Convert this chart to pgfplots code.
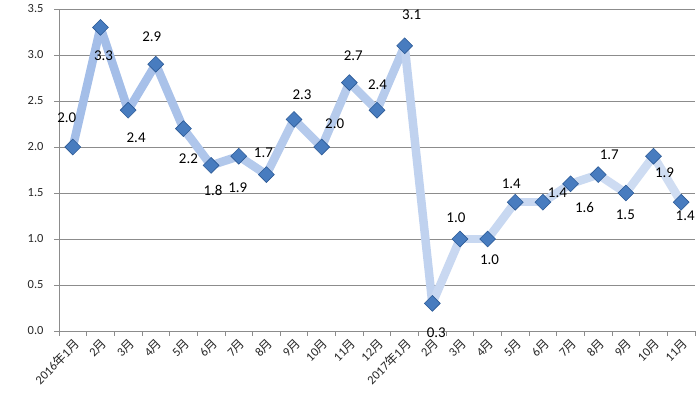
\documentclass[border=0pt]{standalone}
\usepackage{fontspec}
\setmainfont{Carlito}
\newfontfamily\cjk{Noto Sans CJK SC}
\usepackage{pgfplots}
\pgfplotsset{compat=1.18}
\usepackage{pgfplotstable}
\newcommand\Y{{\cjk 月}}
\newcommand\N{{\cjk 年}}
\definecolor{gridgray}{RGB}{140,140,140}
\definecolor{markblue}{RGB}{72,124,191}
\definecolor{markdark}{RGB}{44,90,150}
\pgfplotstableread{
x y dx dy
0 2.0 -6 29
1 3.3 3 -28
2 2.4 8 -28
3 2.9 -4 27
4 2.2 5 -30
5 1.8 2 -25
6 1.9 -1 -32
7 1.7 -3 22
8 2.3 8 25
9 2.0 13 23
10 2.7 4 27
11 2.4 0.5 25
12 3.1 7 31
13 0.3 4 -29
14 1.0 -4 21.5
15 1.0 2 -20.5
16 1.4 -4 18
17 1.4 14.5 9.5
18 1.6 14 -24
19 1.7 11 20
20 1.5 -0.5 -22
21 1.9 11 -16.5
22 1.4 4 -14
}\datatable
\begin{document}
\begin{tikzpicture}
\useasboundingbox (0,0) rectangle (698bp,398bp);
\begin{axis}[
  at={(59bp,67bp)}, anchor=south west,
  scale only axis, width=636bp, height=322bp,
  xmin=-0.5, xmax=22.5, ymin=0, ymax=3.5,
  axis lines=left,
  axis line style={-, draw=gridgray, line width=0.75bp},
  ymajorgrids,
  grid style={draw=gridgray, line width=0.75bp},
  tick align=outside,
  major tick length=5bp,
  minor tick length=5bp,
  ytick={0,0.5,1,1.5,2,2.5,3,3.5},
  ytick style={draw=gridgray, line width=0.75bp},
  yticklabel style={/pgf/number format/fixed, /pgf/number format/fixed zerofill, /pgf/number format/precision=1, /pgf/number format/assume math mode=true, font=\fontsize{12.5}{14}\selectfont, text=black!85, xshift=-7bp},
  xtick={0,...,22},
  xticklabels={2016\N1\Y,2\Y,3\Y,4\Y,5\Y,6\Y,7\Y,8\Y,9\Y,10\Y,11\Y,12\Y,2017\N1\Y,2\Y,3\Y,4\Y,5\Y,6\Y,7\Y,8\Y,9\Y,10\Y,11\Y},
  major x tick style={draw=none},
  minor xtick={-0.5,0.5,...,22.5},
  minor x tick style={draw=gridgray, line width=0.75bp},
  xticklabel style={rotate=45, anchor=north east, inner sep=1bp, font=\fontsize{12.5}{14}\selectfont, text=black!85},
  clip=false,
]
\addplot[mesh, point meta={\thisrow{x}-4*\thisrow{y}}, line width=8.5bp, line cap=round, line join=round,
  colormap={lineblue}{rgb255=(160,187,231) rgb255=(210,223,243)}] table[x=x,y=y] {\datatable};
\addplot[only marks, mark=square*, mark size=5.6bp,
  mark options={rotate=45, fill=markblue, draw=markdark, line width=0.6bp},
  point meta=y,
  visualization depends on={\thisrow{dx}\as\dx},
  visualization depends on={\thisrow{dy}\as\dy},
  nodes near coords={\pgfmathprintnumber[fixed,fixed zerofill,precision=1,assume math mode=true]{\pgfplotspointmeta}},
  every node near coord/.append style={anchor=center, xshift=\dx bp, yshift=\dy bp, font=\fontsize{15}{18}\selectfont, text=black, inner sep=0pt},
] table[x=x,y=y] {\datatable};
\end{axis}
\end{tikzpicture}
\end{document}
